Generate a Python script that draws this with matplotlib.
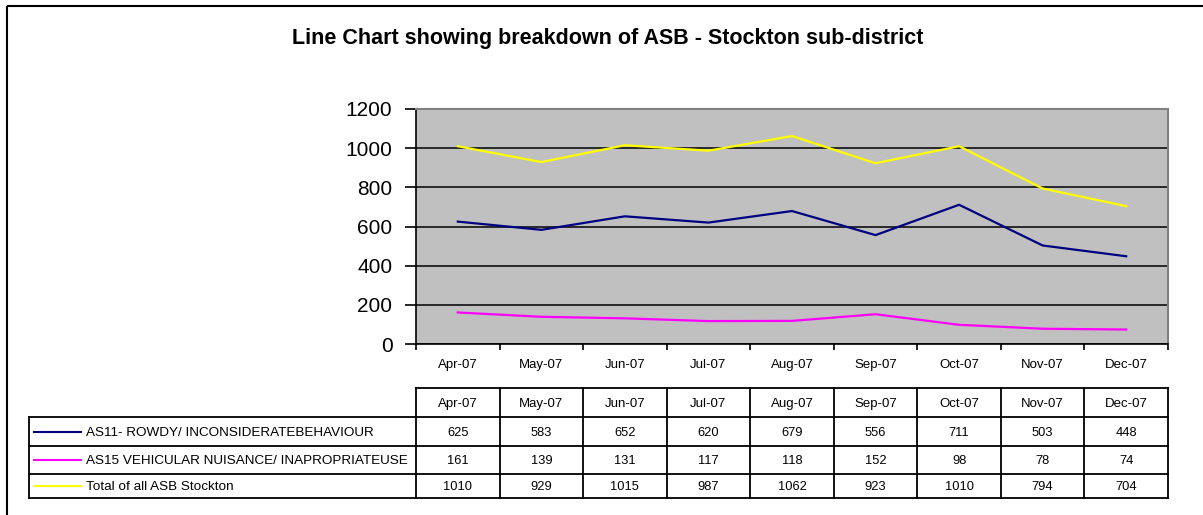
import matplotlib
matplotlib.use("Agg")
import matplotlib.pyplot as plt
from matplotlib.patches import Rectangle

plt.rcParams['font.family'] = ['Liberation Sans', 'DejaVu Sans']

months = ['Apr-07', 'May-07', 'Jun-07', 'Jul-07', 'Aug-07', 'Sep-07', 'Oct-07', 'Nov-07', 'Dec-07']
as11 = [625, 583, 652, 620, 679, 556, 711, 503, 448]
as15 = [161, 139, 131, 117, 118, 152, 98, 78, 74]
total = [1010, 929, 1015, 987, 1062, 923, 1010, 794, 704]
series_names = ['AS11- ROWDY/ INCONSIDERATEBEHAVIOUR',
                'AS15 VEHICULAR NUISANCE/ INAPROPRIATEUSE',
                'Total of all ASB Stockton']
series_colors = ['#000080', '#FF00FF', '#FFFF00']
yticks = [0, 200, 400, 600, 800, 1000, 1200]

W, H = 1203, 515
fig = plt.figure(figsize=(W / 100, H / 100), dpi=100)

# plot area in pixels
px_l, px_r, px_t, px_b = 416, 1168, 109, 344
ax = fig.add_axes([px_l / W, (H - px_b) / H, (px_r - px_l) / W, (px_b - px_t) / H])
ax.set_facecolor('#C0C0C0')

x = list(range(len(months)))
for vals, c in zip([as11, as15, total], series_colors):
    ax.plot(x, vals, color=c, lw=1.6, zorder=3)

ax.set_xlim(-0.5, len(months) - 0.5)
ax.set_ylim(0, 1200)
ax.set_yticks(yticks)
ax.set_yticklabels([str(v) for v in yticks], fontsize=15)
ax.yaxis.grid(True, color='black', lw=1.1)
ax.set_axisbelow(True)
ax.tick_params(axis='y', direction='out', length=8, width=1.2, pad=9)

# category ticks between months, labels in the middle
ax.set_xticks([i - 0.5 for i in range(len(months) + 1)])
ax.set_xticklabels([])
ax.set_xticks(x, minor=True)
ax.set_xticklabels(months, minor=True, fontsize=9.5)
ax.tick_params(axis='x', which='major', direction='out', length=4, width=1.2)
ax.tick_params(axis='x', which='minor', length=0, pad=11)

for s in ['top', 'right']:
    ax.spines[s].set_color('#808080')
    ax.spines[s].set_linewidth(1.5)
for s in ['left', 'bottom']:
    ax.spines[s].set_color('black')
    ax.spines[s].set_linewidth(1.2)

# overlay in pixel coords for title, frame and data table
ov = fig.add_axes([0, 0, 1, 1], zorder=-1)
ov.set_xlim(0, W)
ov.set_ylim(H, 0)
ov.axis('off')

ov.add_patch(Rectangle((7, 6), W + 20, H + 20, fill=False, ec='black', lw=1.5, clip_on=False))
ov.text(608, 36, 'Line Chart showing breakdown of ASB - Stockton sub-district',
        ha='center', va='center_baseline', fontsize=15.5, fontweight='bold')

# data table
col_w = (px_r - px_l) / len(months)
tab_l = 29
head_t, head_b = 388, 417
row_edges = [417, 446, 474, 498]
lw_t = 1.3

ov.plot([px_l, px_r], [head_t, head_t], color='black', lw=lw_t)
for i in range(len(months) + 1):
    xe = px_l + i * col_w
    ov.plot([xe, xe], [head_t, row_edges[-1]], color='black', lw=lw_t)
for i, m in enumerate(months):
    ov.text(px_l + (i + 0.5) * col_w, (head_t + head_b) / 2, m,
            ha='center', va='center_baseline', fontsize=9.5)
for ye in row_edges:
    ov.plot([tab_l, px_r], [ye, ye], color='black', lw=lw_t)
ov.plot([tab_l, tab_l], [row_edges[0], row_edges[-1]], color='black', lw=lw_t)

for r, (vals, name, c) in enumerate(zip([as11, as15, total], series_names, series_colors)):
    yc = (row_edges[r] + row_edges[r + 1]) / 2
    ov.plot([34, 81], [yc, yc], color=c, lw=1.5)
    ov.text(86, yc, name, ha='left', va='center_baseline', fontsize=9.7)
    for i, v in enumerate(vals):
        ov.text(px_l + (i + 0.5) * col_w, yc, str(v), ha='center', va='center_baseline', fontsize=9.3)

fig.savefig('out.png', dpi=100)
